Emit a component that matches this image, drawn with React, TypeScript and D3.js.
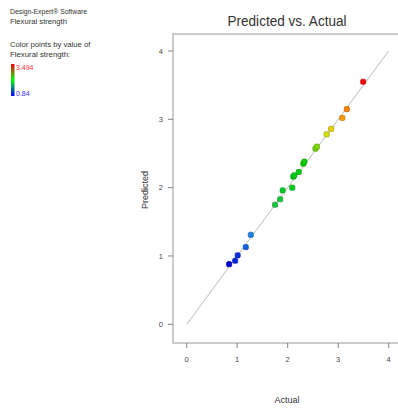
import React from 'react';
import * as d3 from 'd3';

const actual = [0.84, 0.96, 1.01, 1.17, 1.27, 1.75, 1.85, 1.9, 2.09, 2.11, 2.13, 2.22, 2.31, 2.33, 2.55, 2.58, 2.77, 2.86, 3.08, 3.17, 3.494];
const predicted = [0.88, 0.93, 1.01, 1.13, 1.31, 1.75, 1.83, 1.96, 2.0, 2.16, 2.18, 2.23, 2.35, 2.38, 2.57, 2.6, 2.78, 2.86, 3.02, 3.15, 3.55];
const ticks = [0, 1, 2, 3, 4];
const legendLines = ['Design-Expert® Software', 'Flexural strength', '', 'Color points by value of', 'Flexural strength:'];
const colorMin = 0.84;
const colorMax = 3.494;
// relative positions of the colour stops and their colours
const stopPos = [0, 0.12, 0.2, 0.33, 0.55, 0.74, 0.88, 1];
const stopColors = ['#0000e0', '#1060e0', '#20a0e8', '#10c840', '#00d000', '#e0e000', '#ff8000', '#ff0000'];

const W = 398;
const H = 408;

export default function App() {
  const x = d3.scaleLinear().domain([0, 4]).range([186.7, 388.7]);
  const y = d3.scaleLinear().domain([0, 4]).range([324.3, 51]);
  const color = d3
    .scaleLinear<string>()
    .domain(stopPos.map(p => colorMin + p * (colorMax - colorMin)))
    .range(stopColors);
  const barY = d3.scaleLinear().domain([colorMin, colorMax]).range([96, 64]);
  const font = '"Liberation Sans", Arial, sans-serif';
  const grey = '#666';

  return (
    <svg width={W} height={H} style={{ position: 'absolute', left: 0, top: 0, background: '#fff' }}>
      <defs>
        <linearGradient id="bar" x1="0" y1="1" x2="0" y2="0">
          <stop offset="0%" stopColor="#0000ff" />
          <stop offset="50%" stopColor="#00ff00" />
          <stop offset="100%" stopColor="#ff0000" />
        </linearGradient>
      </defs>

      {/* legend */}
      <g fontFamily={font} fontSize={7} fill="#333">
        {legendLines.map((t, i) => (
          <text key={i} x={10} y={14 + i * 10 + (i > 2 ? 3 : 0)} textLength={t ? t.length * 3.35 : undefined} lengthAdjust="spacingAndGlyphs">
            {t}
          </text>
        ))}
        <rect x={11} y={barY(colorMax)} width={3.5} height={barY(colorMin) - barY(colorMax)} fill="url(#bar)" />
        <text x={16} y={barY(colorMax) + 6} fill="#ff3030">{colorMax}</text>
        <text x={16} y={barY(colorMin)} fill="#3030ff">{colorMin}</text>
      </g>

      {/* title */}
      <text x={287} y={26} textAnchor="middle" fontFamily={font} fontSize={14} fill="#333" textLength={119} lengthAdjust="spacingAndGlyphs">
        Predicted vs. Actual
      </text>

      {/* frame */}
      <path d={`M${W},34 H173 V343 H${W}`} fill="none" stroke="#ccc" strokeWidth={2} />

      {/* axes ticks */}
      <g fontFamily={font} fontSize={7.5} fill="#444">
        {ticks.map(t => (
          <g key={'x' + t}>
            <line x1={x(t)} x2={x(t)} y1={343} y2={348} stroke={grey} strokeWidth={0.8} />
            <text x={x(t)} y={362} textAnchor="middle">{t}</text>
          </g>
        ))}
        {ticks.map(t => (
          <g key={'y' + t}>
            <line x1={168} x2={173} y1={y(t)} y2={y(t)} stroke={grey} strokeWidth={0.8} />
            <text x={163} y={y(t) + 2.7} textAnchor="end">{t}</text>
          </g>
        ))}
      </g>

      {/* axis titles */}
      <text x={287} y={403} textAnchor="middle" fontFamily={font} fontSize={9} fill="#333">Actual</text>
      <text transform={`translate(148,190) rotate(-90)`} textAnchor="middle" fontFamily={font} fontSize={9} fill="#333">Predicted</text>

      {/* diagonal */}
      <line x1={x(0)} y1={y(0)} x2={x(4)} y2={y(4)} stroke="#aaa" strokeWidth={0.8} />

      {/* points */}
      {actual.map((a, i) => (
        <rect
          key={i}
          x={x(a) - 2.6}
          y={y(predicted[i]) - 2.6}
          width={5.2}
          height={5.2}
          rx={1.5}
          fill={color(a)}
          stroke={d3.color(color(a))!.darker(1).formatHex()}
          strokeWidth={0.6}
        />
      ))}
    </svg>
  );
}
